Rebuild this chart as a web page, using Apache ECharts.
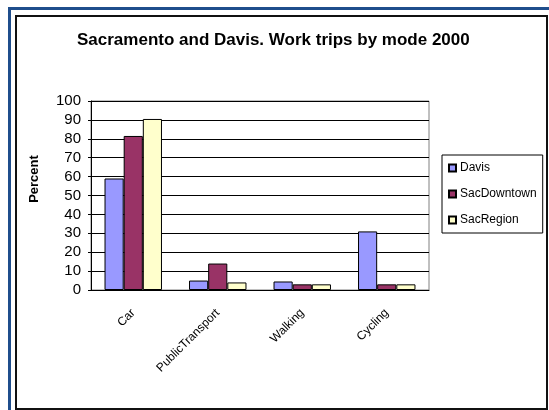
<!DOCTYPE html>
<html lang="en">
<head>
    <meta charset="UTF-8">
    <title>Work trips by mode 2000</title>
    <script src="https://cdn.jsdelivr.net/npm/echarts@6.0.0/dist/echarts.min.js"></script>
    <style>
        body {
            margin: 0;
            background: #fff;
            font-family: 'Liberation Sans', Arial, sans-serif;
        }
        .blue-frame {
            position: absolute;
            left: 8px;
            top: 7px;
            width: 545px;
            height: 410px;
            border-left: 3px solid #1f4e8c;
            border-top: 3px solid #1f4e8c;
        }
        .black-frame {
            position: absolute;
            left: 15px;
            top: 15px;
            width: 529px;
            height: 391px;
            border: 2px solid #111;
        }
        #chart {
            position: absolute;
            left: 0;
            top: 0;
            width: 549px;
            height: 410px;
        }
    </style>
</head>
<body>
    <div class="blue-frame"></div>
    <div class="black-frame"></div>
    <div id="chart"></div>

    <script>
        var categories = ['Car', 'PublicTransport', 'Walking', 'Cycling'];
        var davis = [59, 5, 4.5, 31];
        var sacDowntown = [81.5, 14, 3, 3];
        var sacRegion = [90.5, 4, 3, 3];
        var yTicks = [0, 100, 10];

        var chart = echarts.init(document.getElementById('chart'));

        function barSeries(name, data, color) {
            return {
                name: name,
                type: 'bar',
                data: data,
                barGap: '0%',
                barCategoryGap: '32%',
                itemStyle: {color: color, borderColor: '#000', borderWidth: 1}
            };
        }

        var option = {
            animation: false,
            textStyle: {fontFamily: 'Liberation Sans'},
            title: {
                text: 'Sacramento and Davis. Work trips by mode 2000',
                left: 72,
                top: 27,
                textStyle: {fontSize: 17, fontWeight: 'bold', color: '#000'}
            },
            graphic: [{
                type: 'text',
                x: 34,
                y: 179,
                rotation: Math.PI / 2,
                style: {
                    text: 'Percent',
                    fontSize: 13,
                    fontWeight: 'bold',
                    fill: '#000',
                    align: 'center',
                    verticalAlign: 'middle'
                }
            }],
            legend: {
                orient: 'vertical',
                left: 442,
                top: 155,
                padding: [7, 6, 7, 6],
                itemGap: 14,
                itemWidth: 7,
                itemHeight: 7,
                icon: 'rect',
                borderColor: '#000',
                borderWidth: 1,
                textStyle: {fontSize: 12, color: '#000', padding: [0, 0, 0, -1]},
                data: ['Davis', 'SacDowntown', 'SacRegion']
            },
            grid: {
                left: 91,
                top: 101,
                right: 120,
                bottom: 120,
                show: true,
                borderColor: '#808080',
                borderWidth: 1
            },
            xAxis: {
                type: 'category',
                data: categories,
                axisLine: {lineStyle: {color: '#000'}},
                axisTick: {length: 4, lineStyle: {color: '#000'}},
                axisLabel: {rotate: 45, fontSize: 12, color: '#000', margin: 21}
            },
            yAxis: {
                type: 'value',
                min: yTicks[0],
                max: yTicks[1],
                interval: yTicks[2],
                axisLine: {show: true, lineStyle: {color: '#000'}},
                axisTick: {show: true, length: 3, lineStyle: {color: '#000'}},
                axisLabel: {fontSize: 15, color: '#000', margin: 10},
                splitLine: {lineStyle: {color: '#000', width: 1}}
            },
            series: [
                barSeries('Davis', davis, '#9999ff'),
                barSeries('SacDowntown', sacDowntown, '#993366'),
                barSeries('SacRegion', sacRegion, '#ffffcc')
            ]
        };

        chart.setOption(option);
    </script>
</body>
</html>
